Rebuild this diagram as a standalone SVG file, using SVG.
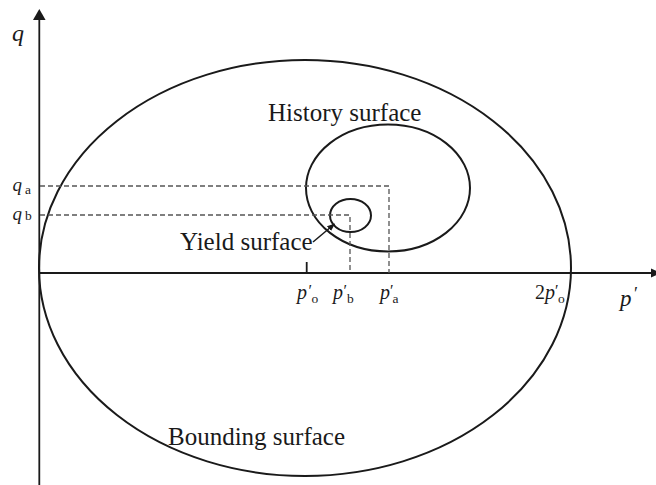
<svg xmlns="http://www.w3.org/2000/svg" width="656" height="485" viewBox="0 0 656 485">
<style>
.ln{fill:none;stroke:#1a1a1a;stroke-width:2}
.ax{fill:none;stroke:#1a1a1a;stroke-width:1.8}
.ds{fill:none;stroke:#555;stroke-width:1.3;stroke-dasharray:5 3}
.t{font-family:"Liberation Serif","Times New Roman",serif;fill:#1a1a1a}
.lbl{font-size:25px}
.it{font-style:italic}
.sb{font-size:13.5px}
.pr{font-size:16px}
</style>
<defs>
<marker id="ah" viewBox="0 0 10 10" refX="9" refY="5" markerWidth="8" markerHeight="8" markerUnits="userSpaceOnUse" orient="auto">
<path d="M0,1 L10,5 L0,9 Z" fill="#1a1a1a"/>
</marker>
</defs>
<rect width="656" height="485" fill="#fff"/>
<g id="axes">
<line class="ax" x1="39.3" y1="19" x2="39.3" y2="485"/>
<path d="M33,20 L39.3,9 L45.6,20 Z" fill="#1a1a1a"/>
<line class="ax" x1="39" y1="273" x2="652" y2="273"/>
<path d="M651,268.5 L661,273 L651,277.5 Z" fill="#1a1a1a"/>
<line class="ax" x1="306.7" y1="262" x2="306.7" y2="273"/>
<text class="t it" x="12" y="41" font-size="24">q</text>
<text class="t" x="620" y="306"><tspan class="it" font-size="23">p</tspan></text>
<text class="t" x="634" y="300" font-size="18">′</text>
</g>
<g id="bounding-surface">
<ellipse class="ln" cx="305" cy="268" rx="266" ry="208"/>
<text class="t lbl" x="168" y="445">Bounding surface</text>
</g>
<g id="history-surface">
<ellipse class="ln" cx="388" cy="188" rx="82" ry="63.5"/>
<text class="t lbl" x="268" y="121">History surface</text>
</g>
<g id="yield-surface">
<ellipse class="ln" cx="350.5" cy="215.5" rx="20.5" ry="16.5"/>
<text class="t lbl" x="180" y="250">Yield surface</text>
</g>
<g id="labels">
<text class="t it" x="12.5" y="190.5" font-size="19">q</text>
<text class="t sb" x="25" y="193.5">a</text>
<text class="t it" x="12.5" y="219.5" font-size="19">q</text>
<text class="t sb" x="25" y="220">b</text>
<text class="t it" x="297" y="299" font-size="20">p</text>
<text class="t pr" x="308.5" y="296">′</text>
<text class="t sb" x="311.5" y="303">o</text>
<text class="t it" x="333" y="299" font-size="20">p</text>
<text class="t pr" x="343.5" y="296">′</text>
<text class="t sb" x="347" y="303">b</text>
<text class="t it" x="380" y="299" font-size="20">p</text>
<text class="t pr" x="390" y="296">′</text>
<text class="t sb" x="392.5" y="303">a</text>
<text class="t" x="535" y="299" font-size="20">2<tspan class="it">p</tspan></text>
<text class="t pr" x="555" y="296">′</text>
<text class="t sb" x="558" y="303">o</text>
</g>
<g id="connectors">
<polyline class="ds" points="40,186 389,186 389,273"/>
<polyline class="ds" points="40,215 350,215 350,273"/>
<line x1="313" y1="242" x2="334.5" y2="224" stroke="#1a1a1a" stroke-width="1.5" marker-end="url(#ah)"/>
</g>
</svg>
